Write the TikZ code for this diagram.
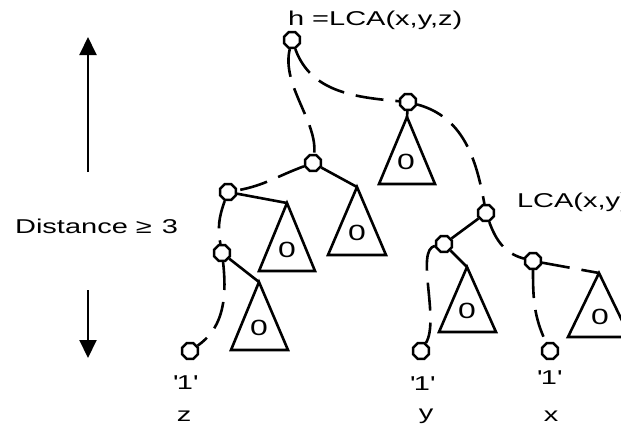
\documentclass[tikz,border=0pt]{standalone}
\usepackage{fontspec}
\setmainfont{Liberation Sans}[FakeStretch=1.45]
\usetikzlibrary{shapes.geometric,arrows.meta}

\begin{document}
\begin{tikzpicture}[
    x=0.5pt, y=0.5pt,
    >={Triangle[width=8.5pt,length=9pt]},
    every node/.style={font=\fontsize{10}{12}\selectfont},
    vertex/.style={draw, regular polygon, regular polygon sides=8, minimum size=8.5pt, inner sep=0pt, line width=1.2pt},
    link/.style={line width=1.3pt},
    dlink/.style={line width=1.3pt, dash pattern=on 14pt off 6pt},
    zero/.style={font=\fontsize{11}{13}\selectfont}
]
\useasboundingbox (0,0) rectangle (621,-430);

% distance marker
\node[anchor=west] (dist) at (8,-226) {Distance ≥\enspace 3};
\coordinate (upfrom) at (88,-172);
\coordinate (upto) at (88,-37);
\coordinate (downfrom) at (88,-290);
\coordinate (downto) at (88,-358);
\draw[->, line width=1pt] (upfrom) -- (upto);
\draw[->, line width=1pt] (downfrom) -- (downto);

% vertices
\node[vertex] (h) at (292,-40) {};
\node[vertex] (hr) at (408,-102) {};
\node[vertex] (hl) at (313,-163) {};
\node[vertex] (hll) at (228,-192) {};
\node[vertex] (hlll) at (222,-253) {};
\node[vertex] (lcaxy) at (486,-213) {};
\node[vertex] (lcal) at (444,-244) {};
\node[vertex] (lcar) at (533,-261) {};
\node[vertex] (leafz) at (190,-351) {};
\node[vertex] (leafy) at (421,-351) {};
\node[vertex] (leafx) at (550,-351) {};

% labels
\node[anchor=west] (hlabel) at (281,-20) {h =LCA(x,y,z)};
\node[anchor=west] (lcalabel) at (510,-202) {LCA(x,y)};
\node (onez) at (185,-383) {\textquotesingle 1\textquotesingle};
\node (oney) at (422,-384) {\textquotesingle 1\textquotesingle};
\node (onex) at (549,-378) {\textquotesingle 1\textquotesingle};
\node (namez) at (184,-416) {z};
\node (namey) at (426,-416) {y};
\node (namex) at (551,-416) {x};

% zero subtrees
\coordinate (ta) at (407,-117);
\draw[link] (ta) -- ++(-28,-67) -- ++(56,0) -- cycle;
\node[zero] (za) at (406,-162) {0};
\coordinate (tb) at (357,-187);
\draw[link] (tb) -- ++(-29,-68) -- ++(58,0) -- cycle;
\node[zero] (zb) at (357,-233) {0};
\coordinate (tc) at (287,-203);
\draw[link] (tc) -- ++(-28,-68) -- ++(56,0) -- cycle;
\node[zero] (zc) at (287,-250) {0};
\coordinate (td) at (259,-282);
\draw[link] (td) -- ++(-28,-68) -- ++(57,0) -- cycle;
\node[zero] (zd) at (259,-328) {0};
\coordinate (te) at (467,-267);
\draw[link] (te) -- ++(-28,-65) -- ++(57,0) -- cycle;
\node[zero] (ze) at (467,-311) {0};
\coordinate (tf) at (599,-273);
\draw[link] (tf) -- ++(-31,-64) -- ++(62,0) -- cycle;
\node[zero] (zf) at (600,-317) {0};

% tree edges
\draw[dlink] (h) .. controls (281,-85) and (318,-122) .. (hl);
\draw[dlink] (h) to[out=-70, in=175] (hr);
\draw[link] (hr) -- (ta);
\draw[dlink] (hr) to[out=-15, in=100] (lcaxy);
\draw[dlink] (hl) to[out=-160, in=10] (hll);
\draw[link] (hl) -- (tb);
\draw[dlink] (hll) to[out=-110, in=100] (hlll);
\draw[link] (hll) -- (tc);
\draw[dlink] (hlll) .. controls (228,-305) and (220,-330) .. (leafz);
\draw[link] (hlll) -- (td);
\draw[link] (lcaxy) -- (lcal);
\draw[dlink] (lcaxy) to[out=-70, in=165] (lcar);
\draw[link] (lcal) -- (te);
\draw[dlink] (lcar) -- (tf);
\draw[dlink] (lcal) .. controls (415,-250) and (440,-320) .. (leafy);
\draw[dlink] (lcar) to[out=-90, in=115] (leafx);
\end{tikzpicture}
\end{document}
